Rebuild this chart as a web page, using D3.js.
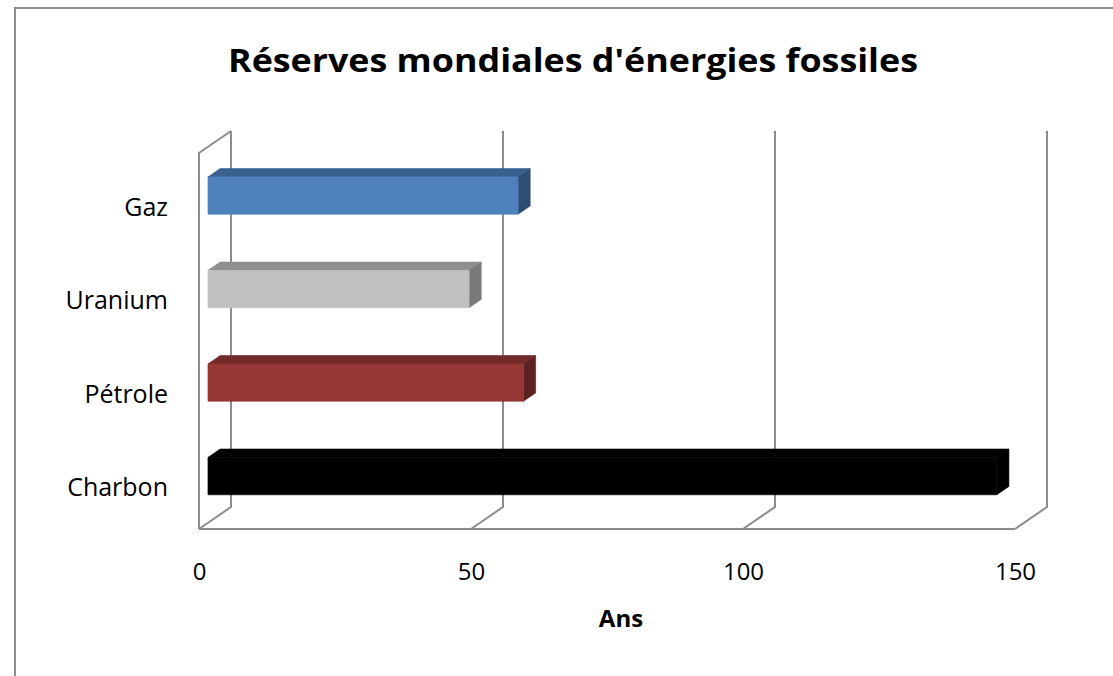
<!DOCTYPE html>
<html>
<head>
<meta charset="utf-8">
<script src="https://cdn.jsdelivr.net/npm/d3@7"></script>
<style>
  body { margin: 0; background: #fff; }
  svg { display: block; }
</style>
</head>
<body>
<svg id="chart"></svg>
<script>
// --------------------- data --------------------------
const categories = ["Gaz", "Uranium", "Pétrole", "Charbon"];
const values = [57, 48, 58, 145];
const tickValues = [0, 50, 100, 150];
const titleText = "Réserves mondiales d'énergies fossiles";
const axisTitle = "Ans";

// face colours : front, top, side
const frontColors = ["#4f81bd", "#c0c0c0", "#953735", "#000000"];
const topColors = ["#3b6190", "#8f8f8f", "#722a28", "#000000"];
const sideColors = ["#2f4e75", "#7a7a7a", "#5c2120", "#000000"];

// --------------------- layout --------------------------
const width = 1113;
const height = 676;
const depthX = 32;   // shift of the back wall
const depthY = -22;
const barFront = 0.28; // depth position of the bars
const barBack = 0.66;

const svg = d3.select("#chart")
  .attr("width", width)
  .attr("height", height);

// value scale on the front plane
const xScale = d3.scaleLinear()
  .domain([0, 150])
  .range([199, 1015]);

// category scale on the front plane
const yScale = d3.scaleBand()
  .domain(categories)
  .range([155, 529])
  .paddingInner(0.6)
  .paddingOuter(0.3);

const floorY = 529;
const wallTop = 153;

// project a point (px, py) of the front plane to depth d
function proj(px, py, d) {
  return [px + d * depthX, py + d * depthY];
}

// outer frame
svg.append("rect")
  .attr("x", 15)
  .attr("y", 8)
  .attr("width", width)
  .attr("height", height)
  .attr("fill", "none")
  .attr("stroke", "#8c8c8c")
  .attr("stroke-width", 2);

// title
svg.append("text")
  .attr("x", 573)
  .attr("y", 72)
  .attr("text-anchor", "middle")
  .attr("textLength", 690)
  .attr("lengthAdjust", "spacingAndGlyphs")
  .style("font-family", "'Open Sans', sans-serif")
  .style("font-weight", "bold")
  .style("font-size", "32px")
  .attr("fill", "#000")
  .text(titleText);

// ---------------------- walls and grid ---------------------------
const gridColor = "#8c8c8c";
const grid = svg.append("g")
  .attr("fill", "none")
  .attr("stroke", gridColor)
  .attr("stroke-width", 2);

// gridlines on back wall + floor diagonals
tickValues.forEach(v => {
  const back = proj(xScale(v), wallTop, 1);
  const backBottom = proj(xScale(v), floorY, 1);
  grid.append("polyline")
    .attr("points", [back, backBottom, [xScale(v), floorY]].map(p => p.join(",")).join(" "));
});

// front edge of floor
grid.append("line")
  .attr("x1", xScale(0))
  .attr("y1", floorY)
  .attr("x2", xScale(150))
  .attr("y2", floorY);

// left wall front edge and top
const wallCorner = proj(xScale(0), wallTop, 1);
grid.append("polyline")
  .attr("points", [[xScale(0), floorY], [xScale(0), wallTop], wallCorner].map(p => p.join(",")).join(" "));

// ---------------------- bars ---------------------------
const bars = svg.append("g");

categories.forEach((c, i) => {
  const x0 = xScale(0);
  const x1 = xScale(values[i]);
  const y0 = yScale(c);
  const y1 = y0 + yScale.bandwidth();

  const top = [proj(x0, y0, barFront), proj(x1, y0, barFront), proj(x1, y0, barBack), proj(x0, y0, barBack)];
  const side = [proj(x1, y0, barFront), proj(x1, y0, barBack), proj(x1, y1, barBack), proj(x1, y1, barFront)];
  const front = [proj(x0, y0, barFront), proj(x1, y0, barFront), proj(x1, y1, barFront), proj(x0, y1, barFront)];

  bars.append("polygon")
    .attr("points", top.map(p => p.join(",")).join(" "))
    .attr("fill", topColors[i])
    .attr("stroke", topColors[i])
    .attr("stroke-width", 0.6);
  bars.append("polygon")
    .attr("points", side.map(p => p.join(",")).join(" "))
    .attr("fill", sideColors[i])
    .attr("stroke", sideColors[i])
    .attr("stroke-width", 0.6);
  bars.append("polygon")
    .attr("points", front.map(p => p.join(",")).join(" "))
    .attr("fill", frontColors[i])
    .attr("stroke", frontColors[i])
    .attr("stroke-width", 0.6);
});

// ---------------------- axes ---------------------------
const xAxis = svg.append("g")
  .attr("transform", "translate(0," + floorY + ")")
  .call(d3.axisBottom(xScale).tickValues(tickValues).tickSize(0).tickFormat(d3.format("d")));
xAxis.select(".domain").remove();
xAxis.selectAll("text")
  .attr("y", 51)
  .attr("dy", 0)
  .style("font-family", "'Open Sans', sans-serif")
  .style("font-size", "24px")
  .attr("fill", "#000");

const yAxis = svg.append("g")
  .attr("transform", "translate(168,6)")
  .call(d3.axisLeft(yScale).tickSize(0));
yAxis.select(".domain").remove();
yAxis.selectAll("text")
  .attr("x", 0)
  .style("font-family", "'Open Sans', sans-serif")
  .style("font-size", "25px")
  .attr("fill", "#000");

// axis title
svg.append("text")
  .attr("x", 621)
  .attr("y", 627)
  .attr("text-anchor", "middle")
  .style("font-family", "'Open Sans', sans-serif")
  .style("font-weight", "bold")
  .style("font-size", "24px")
  .attr("fill", "#000")
  .text(axisTitle);
</script>
</body>
</html>
